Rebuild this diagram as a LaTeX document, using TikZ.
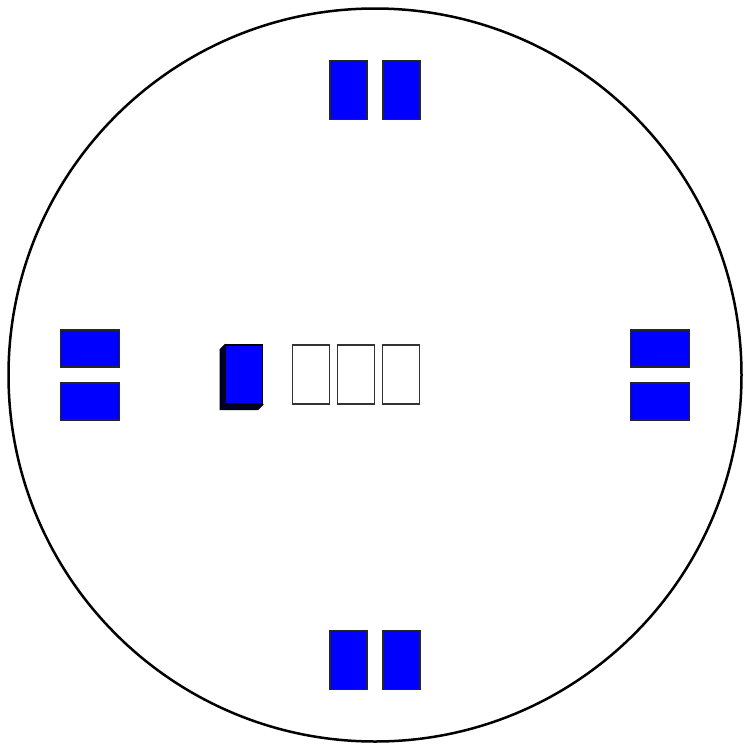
\documentclass[tikz,border=0pt]{standalone}
\begin{document}
\begin{tikzpicture}[x=1pt,y=-1pt,
  bluebox/.style={draw=black!85,fill=blue,line width=1.4pt,inner sep=0pt,minimum width=37pt,minimum height=59pt},
  bluewide/.style={draw=black!85,fill=blue,line width=1.4pt,inner sep=0pt,minimum width=59pt,minimum height=37pt},
  whitebox/.style={draw=black!80,fill=white,line width=1.4pt,inner sep=0pt,minimum width=37pt,minimum height=59pt}]
\useasboundingbox (0,0) rectangle (750,750);
\node[draw=black,line width=2.5pt,circle,minimum size=733pt,inner sep=0pt] (ring) at (375,375) {};
% top
\node[bluebox] (t1) at (348.5,90) {};
\node[bluebox] (t2) at (401.5,90) {};
% bottom
\node[bluebox] (b1) at (348.5,660) {};
\node[bluebox] (b2) at (401.5,660) {};
% left
\node[bluewide] (l1) at (90,348.5) {};
\node[bluewide] (l2) at (90,401.5) {};
% right
\node[bluewide] (r1) at (660,348.5) {};
\node[bluewide] (r2) at (660,401.5) {};
% center 3D box
\fill[fill={rgb,255:red,0;green,0;blue,40},draw=black,line width=1pt] (225,344.5) -- (220,349.5) -- (220,409.5) -- (258,409.5) -- (263,404.5) -- cycle;
\node[bluebox,draw=black] (c0) at (244,374.5) {};
% white boxes
\node[whitebox] (w1) at (311,374.5) {};
\node[whitebox] (w2) at (356,374.5) {};
\node[whitebox] (w3) at (401,374.5) {};
\end{tikzpicture}
\end{document}
